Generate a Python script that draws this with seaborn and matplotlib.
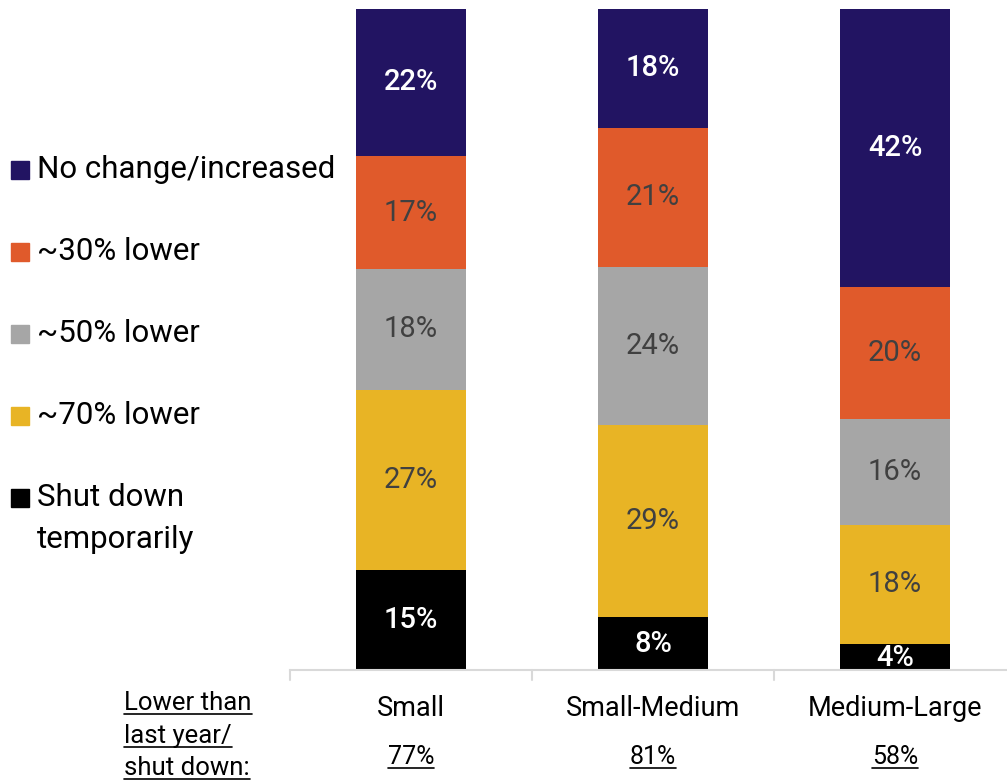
import matplotlib
matplotlib.use("Agg")
import matplotlib.pyplot as plt
from matplotlib.patches import Rectangle
import seaborn as sns
import numpy as np
import pandas as pd

# categories and stacked shares (bottom -> top)
categories = ["Small", "Small-Medium", "Medium-Large"]
series_names = ["Shut down\ntemporarily", "~70% lower", "~50% lower", "~30% lower", "No change/increased"]
shut_down = [15, 8, 4]
lower_70 = [27, 29, 18]
lower_50 = [18, 24, 16]
lower_30 = [17, 21, 20]
no_change = [22, 18, 42]
lower_total = ["77%", "81%", "58%"]

colors = ["#000000", "#E8B425", "#A6A6A6", "#E05A2B", "#221462"]
label_colors = ["white", "#404040", "#404040", "#404040", "white"]

sns.set_theme(style="white")
plt.rcParams["font.family"] = ["Roboto", "DejaVu Sans"]

layers = np.array([shut_down, lower_70, lower_50, lower_30, no_change], dtype=float)
# 100% stacked, like the source chart
shares = layers / layers.sum(axis=0) * 100
cum = np.cumsum(shares, axis=0)

W, H = 1007, 781
fig = plt.figure(figsize=(W / 100, H / 100), dpi=100)
ax = fig.add_axes([290 / W, 111 / H, 726 / W, 661 / H])


def fy(py):
    return 1 - py / H


# draw from the top layer down so each one covers the part below it
for i in range(len(layers) - 1, -1, -1):
    df = pd.DataFrame({"cat": categories, "val": cum[i]})
    sns.barplot(data=df, x="cat", y="val", color=colors[i], width=0.455,
                saturation=1, ax=ax, linewidth=0)

for i in range(len(layers)):
    for j in range(len(categories)):
        mid = cum[i, j] - shares[i, j] / 2
        if i == 0 and layers[i, j] < 6:
            mid = cum[i, j] - 2.2
        ax.text(j, mid, f"{int(layers[i, j])}%", ha="center", va="center",
                fontsize=21, color=label_colors[i],
                fontweight="medium" if label_colors[i] == "white" else "normal")

ax.set_xlim(-0.5, 2.5)
ax.set_ylim(0, 100)
ax.set_xlabel("")
ax.set_ylabel("")
ax.set_yticks([])
ax.set_xticks([])
for s in ["top", "right", "left"]:
    ax.spines[s].set_visible(False)
ax.spines["bottom"].set_color("#d9d9d9")
ax.spines["bottom"].set_linewidth(1.5)

# separator ticks between categories
for b in [-0.5, 0.5, 1.5, 2.5]:
    ax.plot([b, b], [0, -1.5], color="#d9d9d9", lw=1.5, clip_on=False)

renderer = fig.canvas.get_renderer()


def underlined(x, py, text, size, ha):
    t = fig.text(x, fy(py), text, ha=ha, va="center", fontsize=size, color="black")
    bb = t.get_window_extent(renderer=renderer)
    x0, x1 = bb.x0 / W, bb.x1 / W
    yl = fy(py + size * 0.62)
    fig.add_artist(plt.Line2D([x0, x1], [yl, yl], color="black", lw=1.2))


# category labels and the "lower than last year" totals
for j, c in enumerate(categories):
    ax.text(j, -5.8, c, ha="center", va="center", fontsize=19.5, color="black")
    xc = ax.transData.transform((j, 0))[0] / W
    underlined(xc, 757, lower_total[j], 18, "center")

side = ["Lower than", "last year/", "shut down:"]
for k, t in enumerate(side):
    underlined(124 / W, 703 + k * 32.5, t, 18.5, "left")

# legend on the left, top entry first
leg_y = [170, 252, 334, 416, 498]
for k, i in enumerate(range(len(layers) - 1, -1, -1)):
    y = leg_y[k]
    fig.add_artist(Rectangle((11 / W, fy(y + 9)), 18 / W, 18 / H,
                             transform=fig.transFigure, color=colors[i]))
    lines = series_names[i].split("\n")
    for n, line in enumerate(lines):
        fig.text(37 / W, fy(y + n * 42), line, ha="left", va="center",
                 fontsize=22.5, color="black")

fig.savefig("out.png", dpi=100)
